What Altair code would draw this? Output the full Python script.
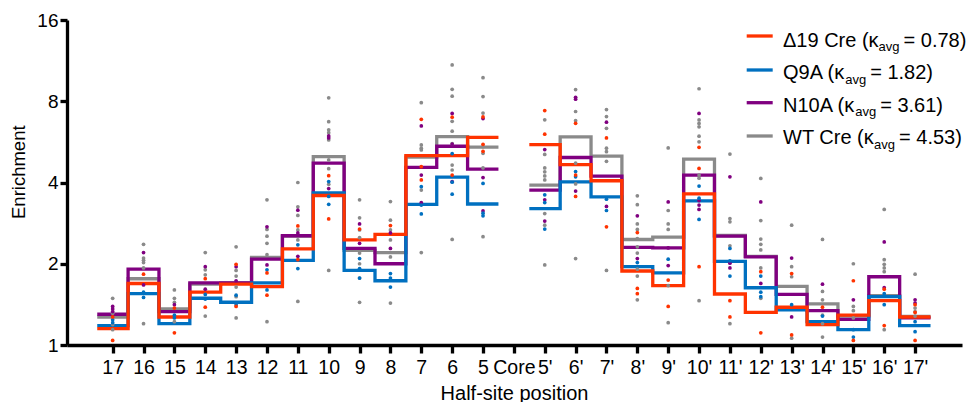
import json
import altair as alt
import pandas as pd

categories = ["17", "16", "15", "14", "13", "12", "11", "10", "9", "8", "7", "6", "5", "Core",
              "5'", "6'", "7'", "8'", "9'", "10'", "11'", "12'", "13'", "14'", "15'", "16'", "17'"]

series_names = ["WT Cre", "N10A", "Q9A", "Δ19 Cre"]
series_colors = ["#8A8A8A", "#800080", "#0070C0", "#FF3300"]

grey_step = [1.27, 1.76, 1.36, 1.68, 1.70, 2.11, 2.53, 4.99, 2.24, 2.20, 4.97, 5.92, 5.41, None,
             3.91, 5.90, 5.01, 2.46, 2.51, 4.88, 2.545, 2.13, 1.65, 1.42, 1.28, 1.525, 1.275]
purple_step = [1.30, 1.91, 1.33, 1.70, 1.70, 2.08, 2.54, 4.72, 2.28, 2.00, 4.55, 5.45, 4.48, None,
               3.75, 4.95, 4.22, 2.30, 2.29, 4.26, 2.53, 2.12, 1.54, 1.34, 1.245, 1.79, 1.26]
blue_step = [1.18, 1.55, 1.20, 1.49, 1.44, 1.70, 2.06, 3.66, 1.89, 1.73, 3.32, 4.19, 3.33, None,
             3.20, 4.02, 3.54, 1.95, 1.85, 3.42, 2.04, 1.63, 1.35, 1.22, 1.14, 1.51, 1.18]
orange_step = [1.15, 1.69, 1.27, 1.57, 1.68, 1.645, 2.27, 3.58, 2.45, 2.57, 5.03, 5.03, 5.88, None,
               5.53, 4.66, 4.06, 1.88, 1.66, 3.63, 1.545, 1.32, 1.38, 1.19, 1.29, 1.46, 1.27]

grey_dots = [
    [1.49, 1.31, 1.19, 1.14], [2.36, 2.10, 2.06, 2.02, 1.93, 1.20], [1.60, 1.49, 1.44, 1.22],
    [2.20, 1.90, 1.82, 1.28], [2.31, 1.89, 1.80, 1.64, 1.51, 1.26], [3.45, 2.68, 2.53, 2.38, 2.16, 1.22],
    [4.00, 3.25, 3.02, 2.67, 2.45, 1.45], [8.24, 6.72, 6.27, 6.12, 5.75, 4.85, 4.50, 3.94, 1.89],
    [3.45, 2.96, 2.67, 2.50, 2.19, 2.00, 1.77, 1.44], [3.40, 2.90, 2.67, 2.45, 2.12, 1.43],
    [7.90, 5.51, 5.36, 5.28, 3.75, 2.20], [10.9, 8.86, 8.35, 6.74, 6.20, 5.57, 4.64, 4.45, 2.46],
    [9.78, 8.33, 7.23, 5.43, 5.13, 4.53, 2.52], [],
    [6.83, 5.08, 4.53, 4.38, 4.23, 4.09, 3.07, 2.78, 1.98], [8.84, 7.33, 6.78, 4.72, 3.95, 2.09],
    [7.45, 7.02, 6.35, 5.36, 5.20, 4.79, 1.89], [3.57, 3.31, 2.81, 2.68, 2.48, 2.31, 2.19, 1.91, 1.80, 1.47],
    [5.37, 3.15, 2.81, 2.68, 1.66, 1.21], [8.90, 6.82, 6.62, 6.43, 5.94, 5.66, 4.26, 4.15, 1.46],
    [5.10, 2.94, 2.86, 2.33, 1.20], [4.14, 2.89, 2.47, 2.36, 2.25, 1.93, 1.49],
    [2.78, 1.95, 1.79, 1.06], [2.46, 1.58, 1.47, 1.29, 1.20, 1.07], [2.00, 1.39, 1.34, 1.26],
    [3.18, 2.07, 1.99, 1.93, 1.87, 1.14], [1.83, 1.37, 1.33, 1.28],
]
purple_dots = [
    [1.39, 1.36, 1.33], [2.20, 1.67], [1.41], [1.95, 1.61], [1.95, 1.73], [2.74, 1.98],
    [3.16, 2.60, 2.13], [5.95, 5.85, 3.80], [2.81, 2.38], [2.60, 2.28], [6.48, 4.26, 3.37],
    [7.21, 5.55, 4.03], [6.90, 4.17, 3.14], [],
    [5.30, 3.45, 2.88], [8.27, 8.14, 3.72], [6.69, 3.26], [3.01, 2.09], [3.39, 2.29, 1.97],
    [7.21, 3.43, 3.30, 3.18], [4.20, 2.01, 1.93], [3.39, 1.69], [2.10, 1.27], [1.68], [1.47],
    [2.41, 1.63], [1.47, 1.43],
]
blue_dots = [
    [1.21, 1.24], [1.57, 1.50], [1.29, 1.26], [1.54, 1.48], [1.53, 1.41], [1.90, 1.60],
    [2.35, 1.92], [4.03, 3.55, 3.32], [2.09, 1.92, 1.77], [1.84, 1.77, 1.64], [3.86, 3.30, 3.06],
    [5.12, 4.01, 3.62], [3.97, 3.08, 3.01], [],
    [3.60, 3.37, 2.69], [4.39, 4.20], [3.47, 3.15], [2.02], [2.08], [3.88, 3.50, 2.92],
    [2.28, 2.05, 1.80], [1.80, 1.57, 1.51], [1.41], [1.28], [1.14, 1.07], [1.55, 1.41], [1.22, 1.12],
]
orange_dots = [
    [1.27, 1.04], [1.83], [1.37, 1.11], [1.76, 1.38], [1.99, 1.39], [1.85, 1.53], [2.76, 2.07],
    [4.24, 2.93], [2.69], [2.77], [6.86, 4.58, 4.09], [6.98, 4.26], [7.00, 5.54, 5.22], [],
    [7.39, 6.04], [6.63, 4.26, 3.55], [5.85, 2.74], [2.61, 1.62, 1.55], [1.74, 1.39],
    [5.40, 4.51, 1.95], [1.46, 1.27], [1.87, 1.11], [1.84, 1.09], [1.38], [1.73, 1.04],
    [1.61, 1.18], [1.41, 1.32, 1.04],
]

legend_main = ["Δ19 Cre (κ", "Q9A (κ", "N10A (κ", "WT Cre (κ"]
legend_sub = "avg"
legend_rest = ["= 0.78)", "= 1.82)", "= 3.61)", "= 4.53)"]
legend_colors = ["#FF3300", "#0070C0", "#800080", "#8A8A8A"]

steps = [grey_step, purple_step, blue_step, orange_step]
dots = [grey_dots, purple_dots, blue_dots, orange_dots]

FONT = "Liberation Sans"
W, H = 895, 325
xscale = alt.Scale(domain=[-1.48, 27.52], nice=False, zero=False)
yscale = alt.Scale(type="log", base=2, domain=[1, 16], nice=False)

labels_js = "[" + ",".join(json.dumps(c) for c in categories) + "]"
core = categories.index("Core")
halves = [("L", list(range(0, core))), ("R", list(range(core + 1, len(categories))))]

xaxis = alt.Axis(values=list(range(len(categories))), labelExpr=labels_js + "[datum.value]",
                 title="Half-site position", titleFont=FONT, titleFontSize=20,
                 titleFontWeight="normal", titleColor="black", titleX=447, titleY=54,
                 titleBaseline="alphabetic", titleAnchor="middle", titleAlign="center",
                 labelFont=FONT, labelFontSize=19.5, labelColor="black", labelOverlap=False,
                 labelFlush=False, labelBaseline="alphabetic", labelPadding=20,
                 domainColor="black", domainWidth=3.3, tickColor="black", tickWidth=3.3,
                 tickSize=8, grid=False)
yaxis = alt.Axis(values=[1, 2, 4, 8, 16], format="d", title="Enrichment", titleFont=FONT,
                 titleFontSize=18.5, titleFontWeight="normal", titleColor="black",
                 titleX=-48.7, titleY=151.7, titleBaseline="middle", titleAngle=-90,
                 labelFont=FONT, labelFontSize=19, labelColor="black", labelPadding=2,
                 labelFlush=False, domainColor="black", domainWidth=3.3, tickColor="black",
                 tickWidth=3.3, tickSize=7, grid=False)

layers = []
for name, color, vals in zip(series_names, series_colors, steps):
    rows = []
    for half, idxs in halves:
        for i in idxs:
            rows.append({"x": i - 0.5, "v": vals[i], "half": half})
        rows.append({"x": idxs[-1] + 0.5, "v": vals[idxs[-1]], "half": half})
    df = pd.DataFrame(rows)
    layers.append(alt.Chart(df).mark_line(interpolate="step-after", strokeWidth=3.3,
                                          color=color, strokeCap="butt", strokeJoin="miter",
                                          clip=False).encode(
        x=alt.X("x:Q", scale=xscale, axis=xaxis),
        y=alt.Y("v:Q", scale=yscale, axis=yaxis),
        detail="half:N"))

for name, color, dl in zip(series_names, series_colors, dots):
    rows = [{"x": i, "v": v} for i, lst in enumerate(dl) for v in lst]
    df = pd.DataFrame(rows)
    layers.append(alt.Chart(df).mark_circle(size=14, opacity=1, color=color).encode(
        x=alt.X("x:Q", scale=xscale, axis=xaxis),
        y=alt.Y("v:Q", scale=yscale, axis=yaxis)))

# approximate Arial/Liberation Sans advance widths (per 1000 em) for legend text layout
ADV = {"Δ": 668, "1": 556, "9": 556, "0": 556, "Q": 778, "A": 667, "N": 722, "W": 944,
       "T": 611, "C": 722, "r": 333, "e": 556, " ": 278, "(": 333, "κ": 500,
       "a": 556, "v": 500, "g": 556}
MAIN_FS, SUB_FS = 20, 13


def text_width(s, fs):
    return sum(ADV.get(ch, 556) for ch in s) * fs / 1000.0


one = pd.DataFrame({"a": [0]})
line_x1, line_x2 = 679.7, 705.7
text_x0 = 716
row_line_y = [16, 50, 82.7, 116]
row_base_y = [26.7, 59.3, 91.7, 124]
for r in range(4):
    x_sub = text_x0 + text_width(legend_main[r], MAIN_FS)
    x_rest = x_sub + text_width(legend_sub, SUB_FS) + 4
    layers.append(alt.Chart(one).mark_rule(color=legend_colors[r], strokeWidth=3.3).encode(
        x=alt.value(line_x1), x2=alt.value(line_x2), y=alt.value(row_line_y[r])))
    layers.append(alt.Chart(one).mark_text(text=legend_main[r], font=FONT, fontSize=MAIN_FS,
                                           align="left", baseline="alphabetic",
                                           color="black").encode(
        x=alt.value(text_x0), y=alt.value(row_base_y[r])))
    layers.append(alt.Chart(one).mark_text(text=legend_sub, font=FONT, fontSize=SUB_FS,
                                           align="left", baseline="alphabetic",
                                           color="black").encode(
        x=alt.value(x_sub), y=alt.value(row_base_y[r] + 4.5)))
    layers.append(alt.Chart(one).mark_text(text=legend_rest[r], font=FONT, fontSize=MAIN_FS,
                                           align="left", baseline="alphabetic",
                                           color="black").encode(
        x=alt.value(x_rest), y=alt.value(row_base_y[r])))

chart = alt.layer(*layers).properties(
    width=W, height=H,
    autosize=alt.AutoSizeParams(type="none"),
    padding={"left": 59, "top": 12, "right": 5, "bottom": 57},
    background="white",
).configure_view(stroke=None)

chart.save("out.html", embed_options={"renderer": "svg", "actions": False})
